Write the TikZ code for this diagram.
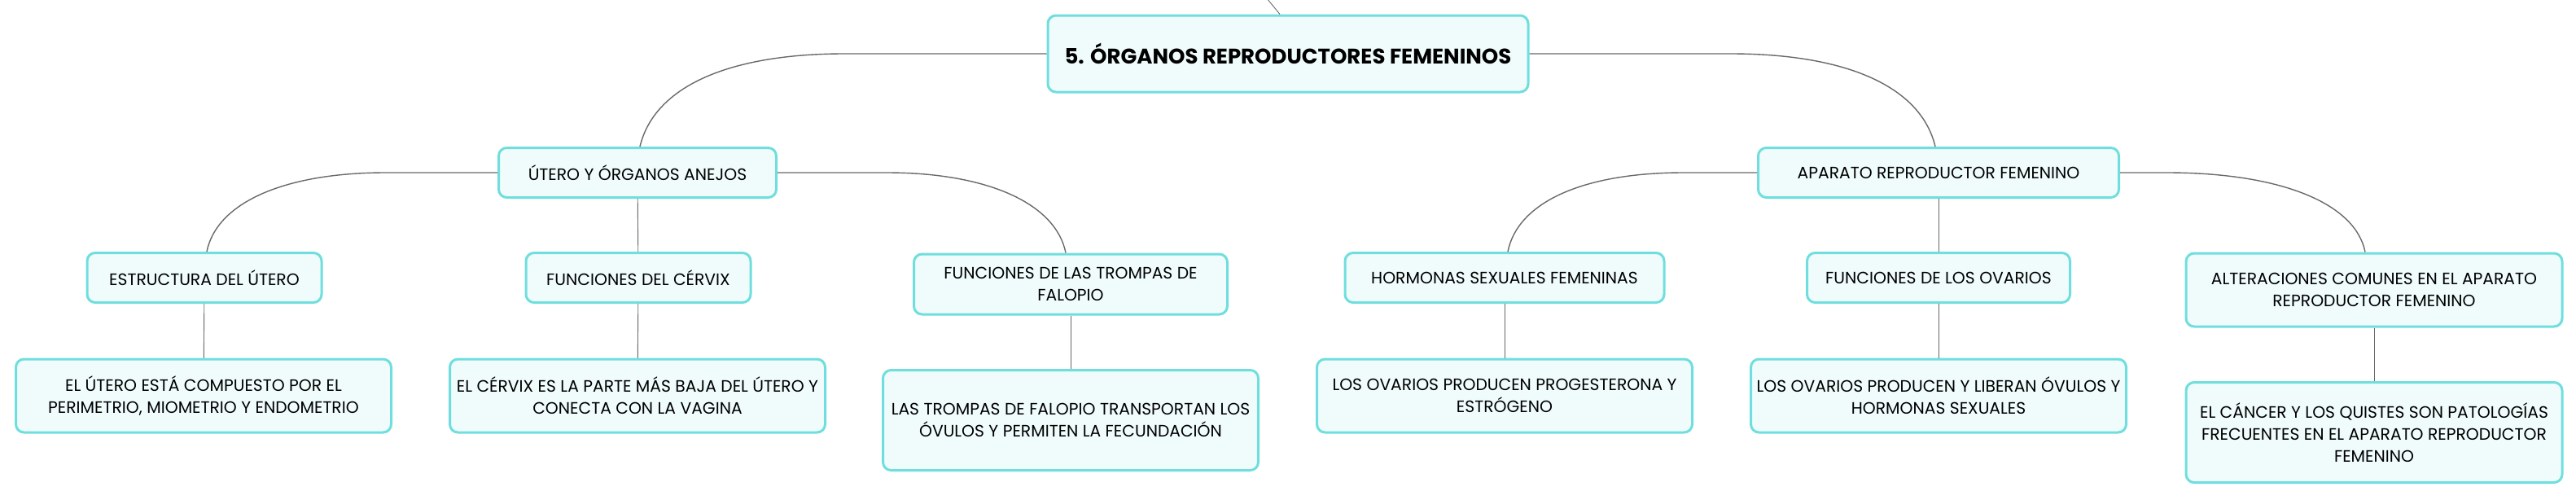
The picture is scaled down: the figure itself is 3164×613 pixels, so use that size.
\documentclass[tikz,border=0pt]{standalone}
\usepackage{fontspec}
\setmainfont{Poppins}
\usepackage{xcolor}
\usepackage{tikz}

\begin{document}
\begin{tikzpicture}[x=1pt,y=-1pt,
  box/.style={draw=boxline,line width=3pt,fill=boxfill,rounded corners=10pt,
    align=center,inner sep=0pt,font=\fontsize{20.3}{27}\selectfont},
  link/.style={draw=linkgrey,line width=1.4pt},
  sublink/.style={draw=linkgrey,line width=0.9pt}]
% Define colors
\definecolor{boxline}{RGB}{112,222,222}
\definecolor{boxfill}{RGB}{240,252,252}
\definecolor{linkgrey}{RGB}{105,105,105}

\useasboundingbox (0,0) rectangle (3164,613);

% Root
\node[box,minimum width=590,minimum height=94,font=\fontsize{26}{27}\selectfont\bfseries] (main) at (1582,66) {5. ÓRGANOS REPRODUCTORES FEMENINOS};
\coordinate (prev) at (1556,-2);
\draw[sublink] (prev) -- ([xshift=-10pt]main.north);

% Branch 1: Utero y organos anejos
\node[box,minimum width=341,minimum height=61] (utero) at (783,212) {ÚTERO Y ÓRGANOS ANEJOS};
\node[box,minimum width=288,minimum height=61] (estructura) at (251,341) {ESTRUCTURA DEL ÚTERO};
\node[box,minimum width=276,minimum height=61] (cervix) at (784,341) {FUNCIONES DEL CÉRVIX};
\node[box,minimum width=385,minimum height=74] (trompas) at (1315,349) {FUNCIONES DE LAS TROMPAS DE\\FALOPIO};
\node[box,minimum width=461,minimum height=90] (estructuradesc) at (250,486) {EL ÚTERO ESTÁ COMPUESTO POR EL\\PERIMETRIO, MIOMETRIO Y ENDOMETRIO};
\node[box,minimum width=461,minimum height=90] (cervixdesc) at (783,486) {EL CÉRVIX ES LA PARTE MÁS BAJA DEL ÚTERO Y\\CONECTA CON LA VAGINA};
\node[box,minimum width=461,minimum height=123] (trompasdesc) at (1315,516) {LAS TROMPAS DE FALOPIO TRANSPORTAN LOS\\ÓVULOS Y PERMITEN LA FECUNDACIÓN};

% Branch 2: Aparato reproductor femenino
\node[box,minimum width=443,minimum height=61] (aparato) at (2381,212) {APARATO REPRODUCTOR FEMENINO};
\node[box,minimum width=392,minimum height=61] (hormonas) at (1848,341) {HORMONAS SEXUALES FEMENINAS};
\node[box,minimum width=323,minimum height=61] (ovarios) at (2381,341) {FUNCIONES DE LOS OVARIOS};
\node[box,minimum width=462,minimum height=90] (alteraciones) at (2916,356) {ALTERACIONES COMUNES EN EL APARATO\\REPRODUCTOR FEMENINO};
\node[box,minimum width=461,minimum height=90] (hormonasdesc) at (1848,486) {LOS OVARIOS PRODUCEN PROGESTERONA Y\\ESTRÓGENO};
\node[box,minimum width=461,minimum height=90] (ovariosdesc) at (2381,486) {LOS OVARIOS PRODUCEN Y LIBERAN ÓVULOS Y\\HORMONAS SEXUALES};
\node[box,minimum width=462,minimum height=123] (alteracionesdesc) at (2916,531) {EL CÁNCER Y LOS QUISTES SON PATOLOGÍAS\\FRECUENTES EN EL APARATO REPRODUCTOR\\FEMENINO};

% Curved links from the root
\draw[link] (main.west) -- ++(-248,0) .. controls +(-140,0) and +(18,-75) .. ([xshift=3pt]utero.north);
\draw[link] (main.east) -- ++(247,0) .. controls +(140,0) and +(-18,-75) .. ([xshift=-4pt]aparato.north);

% Curved links from the second level
\draw[link] (utero.west) -- ++(-137,0) .. controls +(-125,0) and +(12,-60) .. ([xshift=3pt]estructura.north);
\draw[link] (utero.east) -- ++(134,0) .. controls +(125,0) and +(-12,-60) .. ([xshift=-6pt]trompas.north);
\draw[link] (aparato.west) -- ++(-90,0) .. controls +(-125,0) and +(12,-60) .. ([xshift=4pt]hormonas.north);
\draw[link] (aparato.east) -- ++(57,0) .. controls +(140,0) and +(-12,-60) .. ([xshift=-11pt]alteraciones.north);

% Straight links
\draw[sublink] (utero) -- (cervix);
\draw[sublink] (aparato) -- (ovarios);
\draw[sublink] (estructura) -- (estructuradesc);
\draw[sublink] (cervix) -- (cervixdesc);
\draw[sublink] (trompas) -- (trompasdesc);
\draw[sublink] (hormonas) -- (hormonasdesc);
\draw[sublink] (ovarios) -- (ovariosdesc);
\draw[sublink] (alteraciones) -- (alteracionesdesc);

\end{tikzpicture}
\end{document}
